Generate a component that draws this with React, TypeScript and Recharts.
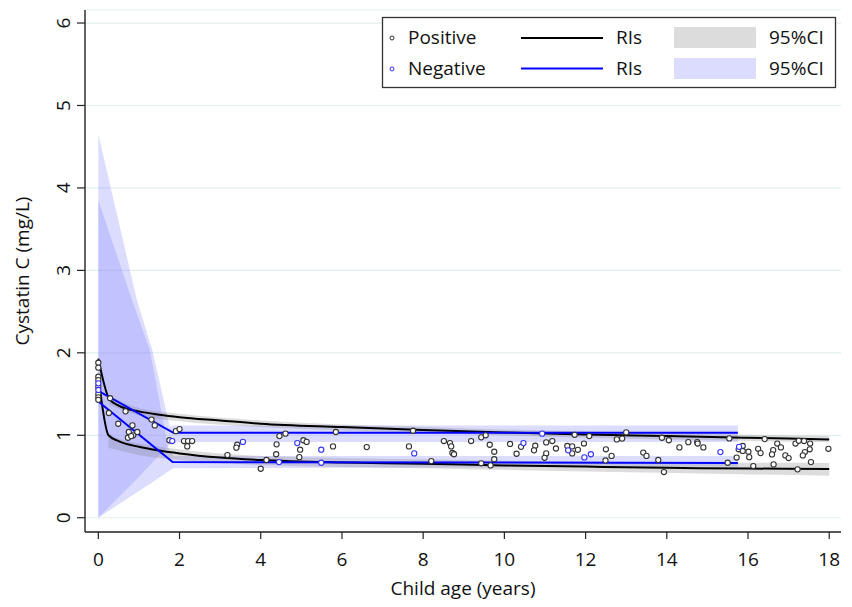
import { Area, CartesianGrid, ComposedChart, Label, Line, Scatter, XAxis, YAxis } from "recharts";

const FONT = "'Open Sans', sans-serif";

// reference-interval lines (age in years, cystatin C mg/L)
const posUpperAge = [0, 0.27, 0.5, 1, 1.5, 2, 3, 4, 6, 8, 10, 12, 14, 16, 18];
const posUpper = [1.93, 1.44, 1.36, 1.29, 1.25, 1.22, 1.18, 1.14, 1.1, 1.065, 1.035, 1.01, 0.99, 0.97, 0.95];
const posLowerAge = [0, 0.25, 0.5, 1, 1.5, 2, 3, 4, 6, 8, 10, 12, 14, 16, 18];
const posLower = [1.72, 1.0, 0.93, 0.86, 0.815, 0.78, 0.73, 0.7, 0.67, 0.655, 0.635, 0.62, 0.605, 0.597, 0.59];
const negUpperAge = [0, 1.85, 15.75];
const negUpper = [1.54, 1.03, 1.03];
const negLowerAge = [0, 1.83, 15.75];
const negLower = [1.41, 0.675, 0.665];

// 95% CI bands
const posUpperCiAge = [0.27, 1, 2, 4, 8, 12, 18];
const posUpperCiLo = [1.37, 1.24, 1.17, 1.1, 1.03, 0.97, 0.915];
const posUpperCiHi = [1.48, 1.33, 1.26, 1.18, 1.1, 1.045, 0.99];
const posLowerCiAge = [0.25, 0.5, 1, 2, 4, 8, 12, 18];
const posLowerCiLo = [0.85, 0.82, 0.76, 0.7, 0.64, 0.6, 0.56, 0.51];
const posLowerCiHi = [1.02, 0.96, 0.9, 0.83, 0.75, 0.71, 0.68, 0.665];
const negUpperCiAge = [0, 0.95, 1.33, 1.76, 1.85, 15.75];
const negUpperCiLo = [0, 0.47, 0.67, 0.89, 0.92, 0.92];
const negUpperCiHi = [4.65, 2.64, 2.03, 1.1, 1.12, 1.12];
const negLowerCiAge = [0, 0.83, 1.27, 1.72, 1.85, 15.75];
const negLowerCiLo = [0, 0.27, 0.41, 0.56, 0.6, 0.62];
const negLowerCiHi = [3.85, 2.64, 2.03, 0.85, 0.75, 0.75];

// observations [age, cystatin C]
const positive = [
  [0, 1.88], [0, 1.82], [0, 1.71], [0, 1.67], [0, 1.59], [0, 1.5], [0, 1.46], [0, 1.43],
  [0.29, 1.45], [0.26, 1.27], [0.67, 1.29], [0.49, 1.14], [0.84, 1.12], [0.75, 1.04], [0.86, 1.0],
  [0.96, 1.04], [0.73, 0.97], [0.81, 0.99], [1.31, 1.19], [1.39, 1.12], [1.91, 1.05], [2.0, 1.075],
  [1.75, 0.94], [2.11, 0.93], [2.21, 0.93], [2.31, 0.93], [2.19, 0.865],
  [5.85, 1.04], [4.61, 1.02], [4.46, 0.99], [3.42, 0.885], [3.4, 0.85], [4.39, 0.89], [5.05, 0.94],
  [5.13, 0.92], [5.78, 0.865], [4.97, 0.825], [3.18, 0.76], [4.38, 0.77], [4.95, 0.735], [4.14, 0.7],
  [4.0, 0.594],
  [7.75, 1.055], [6.61, 0.857], [7.65, 0.865], [8.51, 0.93], [8.66, 0.905], [8.69, 0.865], [8.72, 0.785],
  [8.76, 0.77], [8.2, 0.687],
  [9.18, 0.93], [9.43, 0.975], [9.54, 1.0], [9.64, 0.885], [9.75, 0.8], [9.75, 0.71], [9.43, 0.66],
  [9.66, 0.635], [10.14, 0.895], [10.41, 0.86], [10.3, 0.776], [10.76, 0.873], [10.73, 0.817],
  [11.03, 0.914], [11.18, 0.93], [11.27, 0.84], [11.03, 0.78], [10.99, 0.727], [11.73, 1.006],
  [11.55, 0.87], [11.67, 0.865], [11.81, 0.824], [11.67, 0.78], [11.96, 0.9],
  [12.09, 0.99], [12.5, 0.83], [12.64, 0.75], [12.49, 0.695], [12.77, 0.95], [12.9, 0.96], [13.0, 1.035],
  [13.42, 0.79], [13.5, 0.75], [13.79, 0.7], [13.88, 0.97], [14.05, 0.94], [13.93, 0.554], [14.31, 0.853],
  [14.53, 0.917], [14.75, 0.917], [14.76, 0.9], [14.9, 0.853],
  [15.54, 0.962], [15.87, 0.87], [15.77, 0.83], [15.87, 0.81], [16.01, 0.8], [15.72, 0.73], [16.03, 0.735],
  [15.5, 0.667], [16.13, 0.627], [16.25, 0.836], [16.31, 0.784], [16.41, 0.954], [16.62, 0.82],
  [16.59, 0.768], [16.72, 0.9], [16.81, 0.853], [16.92, 0.756], [17.0, 0.724], [16.63, 0.647],
  [17.17, 0.9], [17.25, 0.933], [17.38, 0.93], [17.53, 0.9], [17.52, 0.83], [17.4, 0.796], [17.35, 0.756],
  [17.55, 0.675], [17.22, 0.587], [17.98, 0.836],
];
const negative = [
  [0, 1.63], [0, 1.55], [1.82, 0.93], [3.56, 0.92], [4.9, 0.905], [5.49, 0.825], [4.45, 0.675],
  [5.49, 0.667], [7.78, 0.78], [10.47, 0.905], [10.93, 1.02], [11.57, 0.817], [11.97, 0.732],
  [12.13, 0.77], [15.32, 0.796], [15.78, 0.86],
];

const xTicks = [0, 2, 4, 6, 8, 10, 12, 14, 16, 18];
const yTicks = [0, 1, 2, 3, 4, 5, 6];

const line = (xs: number[], ys: number[]) => xs.map((x, i) => ({ x, y: ys[i] }));
const band = (xs: number[], lo: number[], hi: number[]) => xs.map((x, i) => ({ x, band: [lo[i], hi[i]] }));
const pts = (arr: number[][]) => arr.map(([x, y]) => ({ x, y }));

const txt = { fontSize: 19, fontFamily: FONT, fill: "#111" };

const dot = (color: string) => (p: any) => (
  <circle cx={p.cx} cy={p.cy} r={2.6} fill="#fff" stroke={color} strokeWidth={1.1} />
);

const XTick = ({ x, y, payload }: any) => (
  <text x={x} y={y + 25} textAnchor="middle" {...txt}>
    {payload.value}
  </text>
);

const XTitle = ({ viewBox }: any) => (
  <text x={viewBox.x + viewBox.width / 2} y={595} textAnchor="middle" {...txt}>
    Child age (years)
  </text>
);
const YTitle = ({ viewBox }: any) => {
  const cy = viewBox.y + viewBox.height / 2;
  return (
    <g transform={`translate(29,${cy}) rotate(-90)`}>
      <text x={0} y={0} textAnchor="middle" {...txt}>
        Cystatin C (mg/L)
      </text>
    </g>
  );
};

function LegendBox() {
  return (
    <svg width={852} height={607} style={{ position: "absolute", left: 0, top: 0, pointerEvents: "none" }}>
      <rect x={382.5} y={17.5} width={453} height={70} fill="#fff" stroke="#333" strokeWidth={1.3} />
      <circle cx={392} cy={38} r={2} fill="#fff" stroke="#333" strokeWidth={1} />
      <circle cx={392} cy={69} r={2} fill="#fff" stroke="#3333ff" strokeWidth={1} />
      <text x={408} y={44} {...txt}>Positive</text>
      <text x={408} y={75} {...txt}>Negative</text>
      <line x1={521} x2={603} y1={38} y2={38} stroke="#000" strokeWidth={2} />
      <line x1={521} x2={603} y1={68.5} y2={68.5} stroke="#0000ff" strokeWidth={2} />
      <text x={616} y={44} {...txt}>RIs</text>
      <text x={616} y={75} {...txt}>RIs</text>
      <rect x={674} y={27} width={82} height={21} fill="#dcdcdc" />
      <rect x={674} y={58} width={82} height={21} fill="#dcdcff" />
      <text x={769} y={44} {...txt}>95%CI</text>
      <text x={769} y={75} {...txt}>95%CI</text>
    </svg>
  );
}

export default function App() {
  return (
    <div style={{ position: "relative", width: 852, height: 607, background: "#fff" }}>
      <style>{`body{margin:0}`}</style>
      <ComposedChart width={852} height={607} margin={{ top: 10, right: 11, bottom: 0, left: 0 }}>
        <CartesianGrid vertical={false} stroke="#e3eef0" strokeWidth={1.2} />
        <XAxis
          type="number"
          dataKey="x"
          domain={[-0.328, 18.29]}
          ticks={xTicks}
          allowDataOverflow
          height={75}
          tickSize={7}
          axisLine={{ stroke: "#222", strokeWidth: 1.4 }}
          tickLine={{ stroke: "#222", strokeWidth: 1.2 }}
          tick={XTick}
        >
          <Label content={XTitle} />
        </XAxis>
        <YAxis
          type="number"
          dataKey="y"
          domain={[-0.173, 6.158]}
          ticks={yTicks}
          allowDataOverflow
          width={85}
          tickSize={8}
          axisLine={{ stroke: "#222", strokeWidth: 1.4 }}
          tickLine={{ stroke: "#222", strokeWidth: 1.2 }}
          tick={{ angle: -90, textAnchor: "middle", verticalAnchor: "end", dx: -12, ...txt }}
        >
          <Label content={YTitle} />
        </YAxis>
        <Area data={band(negUpperCiAge, negUpperCiLo, negUpperCiHi)} dataKey="band" type="linear" stroke="none" fill="#8080ff" fillOpacity={0.28} isAnimationActive={false} />
        <Area data={band(negLowerCiAge, negLowerCiLo, negLowerCiHi)} dataKey="band" type="linear" stroke="none" fill="#8080ff" fillOpacity={0.28} isAnimationActive={false} />
        <Area data={band(posUpperCiAge, posUpperCiLo, posUpperCiHi)} dataKey="band" type="monotone" stroke="none" fill="#808080" fillOpacity={0.28} isAnimationActive={false} />
        <Area data={band(posLowerCiAge, posLowerCiLo, posLowerCiHi)} dataKey="band" type="monotone" stroke="none" fill="#808080" fillOpacity={0.28} isAnimationActive={false} />
        <Line data={line(posUpperAge, posUpper)} dataKey="y" type="monotone" stroke="#000" strokeWidth={2} dot={false} isAnimationActive={false} />
        <Line data={line(posLowerAge, posLower)} dataKey="y" type="monotone" stroke="#000" strokeWidth={2} dot={false} isAnimationActive={false} />
        <Line data={line(negUpperAge, negUpper)} dataKey="y" type="linear" stroke="#0000ff" strokeWidth={2} dot={false} isAnimationActive={false} />
        <Line data={line(negLowerAge, negLower)} dataKey="y" type="linear" stroke="#0000ff" strokeWidth={2} dot={false} isAnimationActive={false} />
        <Scatter data={pts(positive)} shape={dot("#333")} isAnimationActive={false} />
        <Scatter data={pts(negative)} shape={dot("#3333ff")} isAnimationActive={false} />
      </ComposedChart>
      <LegendBox />
    </div>
  );
}
